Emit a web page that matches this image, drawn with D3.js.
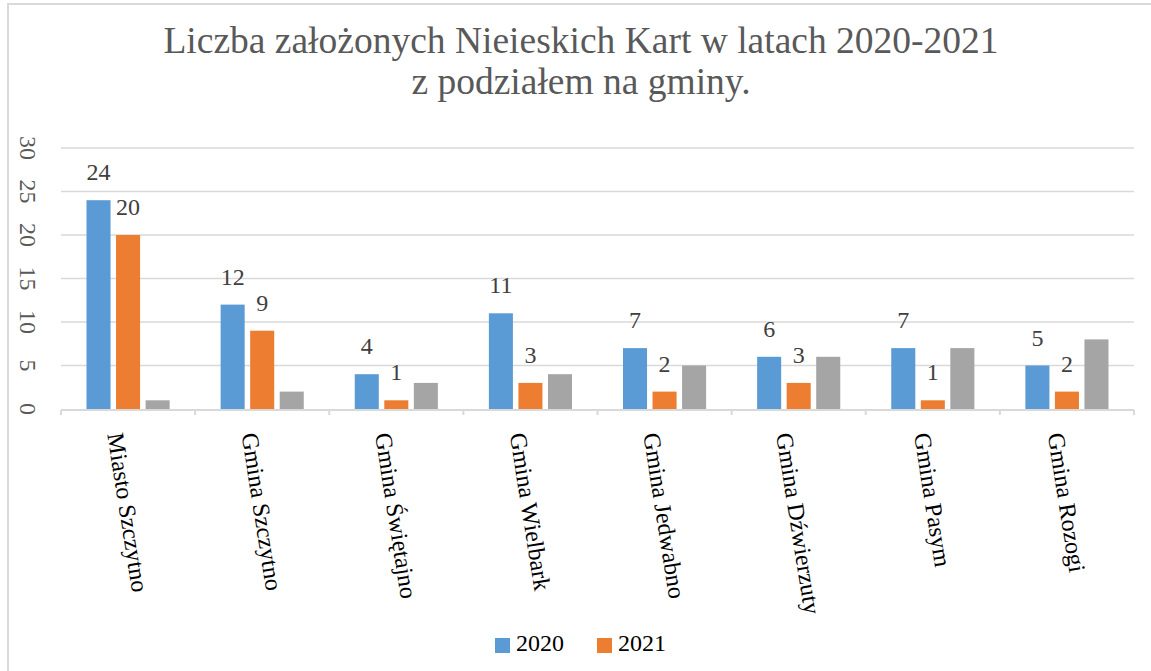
<!DOCTYPE html>
<html>
<head>
  <meta charset="utf-8">
  <title>Liczba założonych Nieieskich Kart</title>
  <style>
    body { margin: 0; background: #fff; }
    text { font-family: "Liberation Serif", "Times New Roman", serif; }
  </style>
  <script src="https://d3js.org/d3.v7.min.js"></script>
</head>
<body>
  <div id="container"></div>
  <script>
    // data
    const categories = ["Miasto Szczytno", "Gmina Szczytno", "Gmina Świętajno", "Gmina Wielbark",
                        "Gmina Jedwabno", "Gmina Dźwierzuty", "Gmina Pasym", "Gmina Rozogi"];
    const values2020 = [24, 12, 4, 11, 7, 6, 7, 5];
    const values2021 = [20, 9, 1, 3, 2, 3, 1, 2];
    const valuesExtra = [1, 2, 3, 4, 5, 6, 7, 8];  // third series, no legend entry, no labels
    const yTicks = [0, 5, 10, 15, 20, 25, 30];
    const titleLines = ["Liczba założonych Nieieskich Kart w latach 2020-2021", "z podziałem na gminy."];

    const width = 1151, height = 671;
    const plot = {left: 61, right: 1134, top: 148, bottom: 409};

    const series = [
      {key: "2020", values: values2020, color: "#5B9BD5", labels: true, legend: true},
      {key: "2021", values: values2021, color: "#ED7D31", labels: true, legend: true},
      {key: "extra", values: valuesExtra, color: "#A5A5A5", labels: false, legend: false}
    ];

    const svg = d3.select("#container").append("svg")
      .attr("width", width)
      .attr("height", height);

    // frame (only the left and top edges show in the picture)
    svg.append("path")
      .attr("d", "M8,671 V4 H1151")
      .attr("fill", "none")
      .attr("stroke", "#d9d9d9")
      .attr("stroke-width", 2);

    // title
    const title = svg.append("text")
      .attr("x", 581)
      .attr("y", 53)
      .attr("text-anchor", "middle")
      .attr("font-size", 37.5)
      .attr("fill", "#595959");
    titleLines.forEach(function(line, i){
      title.append("tspan").attr("x", 581).attr("dy", i == 0 ? 0 : 41).text(line);
    });

    const x0 = d3.scaleBand().domain(categories).range([plot.left, plot.right]);
    const x1 = d3.scaleBand().domain(series.map(d => d.key))
      .range([25.5, x0.bandwidth() - 25.5]).paddingInner(0.186);
    const y = d3.scaleLinear().domain([0, 30]).range([plot.bottom, plot.top]);

    // gridlines
    svg.append("g").selectAll("line")
      .data(yTicks.filter(d => d > 0))
      .enter().append("line")
      .attr("x1", plot.left).attr("x2", plot.right)
      .attr("y1", d => y(d)).attr("y2", d => y(d))
      .attr("stroke", "#d9d9d9").attr("stroke-width", 1.5);

    // y tick labels, turned on their side
    svg.append("g").selectAll("text")
      .data(yTicks)
      .enter().append("text")
      .attr("transform", d => "translate(28," + y(d) + ") rotate(90)")
      .attr("text-anchor", "middle")
      .attr("dy", "0.35em")
      .attr("font-size", 24)
      .attr("fill", "#595959")
      .text(d => d);

    // bars
    series.forEach(function(s){
      const g = svg.append("g");
      g.selectAll("rect")
        .data(categories)
        .enter().append("rect")
        .attr("x", (c) => x0(c) + x1(s.key))
        .attr("width", x1.bandwidth())
        .attr("y", (c, i) => y(s.values[i]))
        .attr("height", (c, i) => y(0) - y(s.values[i]))
        .attr("fill", s.color);
      if (s.labels){
        g.selectAll("text")
          .data(categories)
          .enter().append("text")
          .attr("x", (c) => x0(c) + x1(s.key) + x1.bandwidth() / 2)
          .attr("y", (c, i) => y(s.values[i]) - 20)
          .attr("text-anchor", "middle")
          .attr("font-size", 24)
          .attr("fill", "#404040")
          .text((c, i) => s.values[i]);
      }
    });

    // x axis line and tick marks between categories
    const axis = svg.append("g");
    axis.append("line")
      .attr("x1", plot.left).attr("x2", plot.right)
      .attr("y1", plot.bottom + 1).attr("y2", plot.bottom + 1)
      .attr("stroke", "#d9d9d9").attr("stroke-width", 2);
    axis.selectAll("line.tick")
      .data(categories.map(c => x0(c)).concat([plot.right]))
      .enter().append("line")
      .attr("class", "tick")
      .attr("x1", d => d).attr("x2", d => d)
      .attr("y1", plot.bottom + 1).attr("y2", plot.bottom + 6)
      .attr("stroke", "#d9d9d9").attr("stroke-width", 2);

    // category labels, tilted a little off vertical
    const angle = 81, rad = angle * Math.PI / 180;
    axis.selectAll("text")
      .data(categories)
      .enter().append("text")
      .attr("font-size", 24)
      .attr("fill", "#000")
      .attr("dy", "0.35em")
      .text(d => d)
      .attr("transform", function(d){
        const len = this.getComputedTextLength();
        const cx = x0(d) + x0.bandwidth() / 2 - Math.cos(rad) * len / 2;
        return "translate(" + cx + "," + 433 + ") rotate(" + angle + ")";
      });

    // legend
    const legend = svg.append("g");
    const legendPos = {"2020": 495, "2021": 597};
    series.filter(s => s.legend).forEach(function(s){
      legend.append("rect")
        .attr("x", legendPos[s.key]).attr("y", 638)
        .attr("width", 15).attr("height", 15)
        .attr("fill", s.color);
      legend.append("text")
        .attr("x", legendPos[s.key] + 21).attr("y", 651)
        .attr("font-size", 24)
        .attr("fill", "#000")
        .text(s.key);
    });
  </script>
</body>
</html>
